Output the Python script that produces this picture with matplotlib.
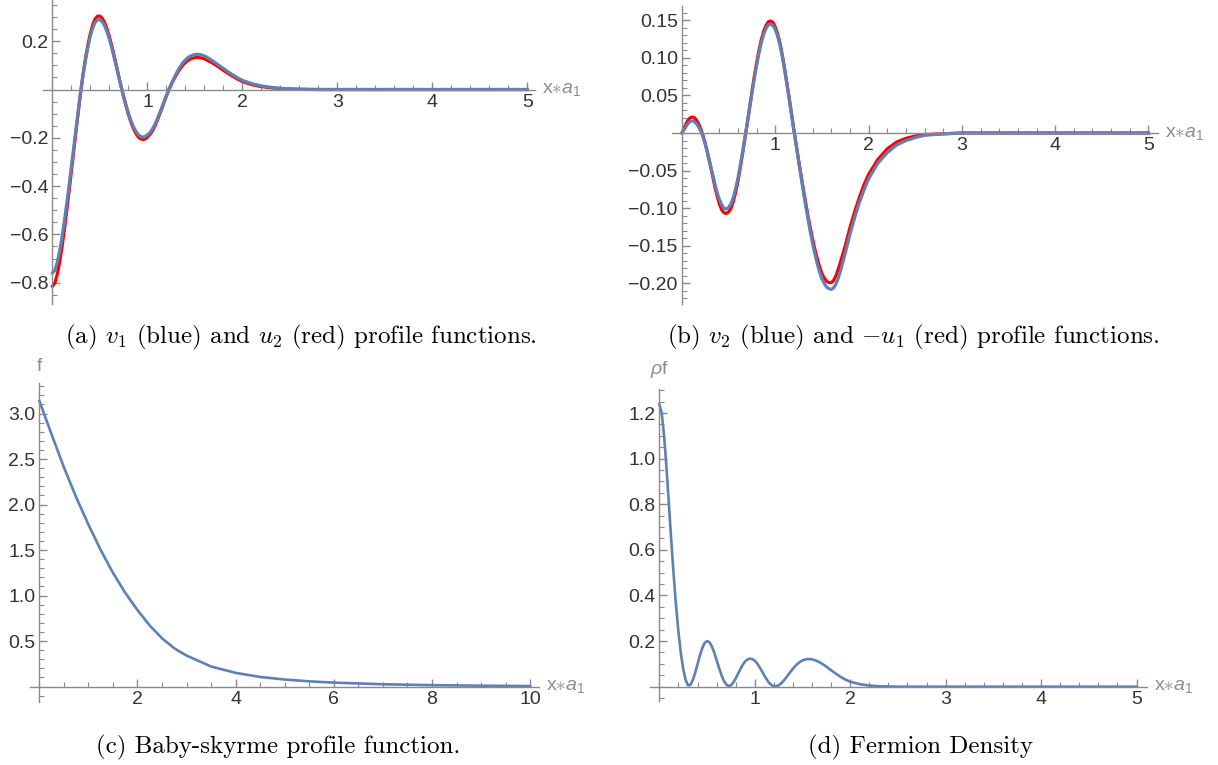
import matplotlib
matplotlib.use("Agg")
import matplotlib.pyplot as plt
from matplotlib.ticker import FixedLocator, MultipleLocator, FuncFormatter

plt.rcParams['font.family'] = ['Liberation Sans', 'DejaVu Sans']
plt.rcParams['mathtext.fontset'] = 'custom'
plt.rcParams['mathtext.rm'] = 'Liberation Sans'
plt.rcParams['mathtext.it'] = 'Liberation Sans:italic'

# ---- data ----
x_prof = [0.000, 0.025, 0.050, 0.075, 0.100, 0.125, 0.150, 0.175, 0.200, 0.225,
          0.250, 0.275, 0.300, 0.325, 0.350, 0.375, 0.400, 0.425, 0.450, 0.475,
          0.500, 0.525, 0.550, 0.575, 0.600, 0.625, 0.650, 0.675, 0.700, 0.725,
          0.750, 0.775, 0.800, 0.825, 0.850, 0.875, 0.900, 0.925, 0.950, 0.975,
          1.000, 1.025, 1.050, 1.075, 1.100, 1.125, 1.150, 1.175, 1.200, 1.225,
          1.250, 1.275, 1.300, 1.325, 1.350, 1.375, 1.400, 1.425, 1.450, 1.475,
          1.500, 1.525, 1.550, 1.575, 1.600, 1.625, 1.650, 1.675, 1.700,
          1.75, 1.80, 1.85, 1.90, 1.95, 2.00,
          2.1, 2.2, 2.3, 2.4, 2.5, 2.6,
          2.8, 3.0, 3.5, 4.0, 4.5, 5.0]

v1 = [-0.760, -0.748, -0.716, -0.670, -0.612, -0.545, -0.472, -0.395, -0.315, -0.235,
      -0.155, -0.076, 0.000, 0.068, 0.128, 0.180, 0.224, 0.257, 0.279, 0.289,
      0.289, 0.280, 0.263, 0.238, 0.207, 0.171, 0.131, 0.090, 0.048, 0.008,
      -0.030, -0.066, -0.099, -0.128, -0.152, -0.171, -0.185, -0.194, -0.197, -0.195,
      -0.188, -0.179, -0.165, -0.147, -0.125, -0.101, -0.076, -0.050, -0.025, -0.001,
      0.022, 0.044, 0.064, 0.082, 0.098, 0.112, 0.123, 0.132, 0.138, 0.142,
      0.145, 0.146, 0.145, 0.143, 0.139, 0.134, 0.128, 0.122, 0.115,
      0.101, 0.087, 0.073, 0.060, 0.048, 0.038,
      0.024, 0.015, 0.009, 0.005, 0.003, 0.001,
      0.000, 0.000, 0.000, 0.000, 0.000, 0.000]

u2 = [-0.815, -0.801, -0.766, -0.715, -0.652, -0.580, -0.501, -0.419, -0.335, -0.250,
      -0.165, -0.081, 0.000, 0.072, 0.135, 0.189, 0.235, 0.270, 0.293, 0.304,
      0.304, 0.294, 0.276, 0.250, 0.217, 0.180, 0.138, 0.095, 0.050, 0.008,
      -0.032, -0.069, -0.104, -0.134, -0.160, -0.180, -0.195, -0.204, -0.207, -0.205,
      -0.197, -0.186, -0.173, -0.154, -0.131, -0.106, -0.080, -0.053, -0.026, -0.001,
      0.020, 0.040, 0.058, 0.075, 0.089, 0.102, 0.112, 0.120, 0.126, 0.130,
      0.132, 0.133, 0.132, 0.130, 0.127, 0.122, 0.117, 0.112, 0.106,
      0.093, 0.079, 0.066, 0.054, 0.043, 0.033,
      0.020, 0.012, 0.007, 0.004, 0.002, 0.001,
      0.000, 0.000, 0.000, 0.000, 0.000, 0.000]

v2 = [0.000, 0.005, 0.010, 0.014, 0.016, 0.016, 0.013, 0.009, 0.003, -0.005,
      -0.015, -0.027, -0.040, -0.053, -0.066, -0.078, -0.088, -0.095, -0.100, -0.101,
      -0.099, -0.094, -0.086, -0.074, -0.060, -0.043, -0.025, -0.006, 0.013, 0.033,
      0.053, 0.072, 0.090, 0.106, 0.120, 0.131, 0.139, 0.144, 0.145, 0.143,
      0.138, 0.129, 0.117, 0.102, 0.084, 0.065, 0.045, 0.024, 0.003, -0.017,
      -0.037, -0.057, -0.077, -0.096, -0.114, -0.131, -0.147, -0.161, -0.174, -0.185,
      -0.194, -0.200, -0.205, -0.207, -0.208, -0.206, -0.201, -0.193, -0.183,
      -0.160, -0.135, -0.113, -0.093, -0.076, -0.061,
      -0.040, -0.026, -0.016, -0.010, -0.006, -0.003,
      -0.001, 0.000, 0.000, 0.000, 0.000, 0.000]

minus_u1 = [0.000, 0.007, 0.014, 0.019, 0.021, 0.021, 0.018, 0.013, 0.006, -0.003,
            -0.014, -0.027, -0.041, -0.055, -0.070, -0.083, -0.094, -0.102, -0.106, -0.107,
            -0.105, -0.100, -0.091, -0.079, -0.064, -0.046, -0.027, -0.007, 0.013, 0.034,
            0.055, 0.075, 0.093, 0.110, 0.124, 0.135, 0.143, 0.148, 0.149, 0.147,
            0.141, 0.132, 0.120, 0.104, 0.086, 0.066, 0.046, 0.025, 0.004, -0.016,
            -0.036, -0.055, -0.074, -0.092, -0.110, -0.126, -0.141, -0.155, -0.167, -0.178,
            -0.187, -0.193, -0.197, -0.199, -0.199, -0.196, -0.190, -0.181, -0.171,
            -0.150, -0.126, -0.105, -0.086, -0.069, -0.055,
            -0.035, -0.021, -0.012, -0.007, -0.004, -0.002,
            -0.001, 0.000, 0.000, 0.000, 0.000, 0.000]

rho = [1.240, 1.200, 1.100, 0.960, 0.800, 0.640, 0.490, 0.355, 0.240, 0.148,
       0.078, 0.030, 0.006, 0.008, 0.028, 0.060, 0.098, 0.137, 0.170, 0.192,
       0.200, 0.195, 0.177, 0.150, 0.117, 0.083, 0.052, 0.027, 0.010, 0.003,
       0.006, 0.018, 0.036, 0.057, 0.078, 0.097, 0.111, 0.120, 0.123, 0.121,
       0.114, 0.102, 0.086, 0.068, 0.049, 0.032, 0.017, 0.007, 0.002, 0.002,
       0.006, 0.014, 0.025, 0.038, 0.052, 0.066, 0.079, 0.091, 0.101, 0.109,
       0.115, 0.119, 0.121, 0.121, 0.120, 0.117, 0.113, 0.108, 0.102,
       0.088, 0.072, 0.057, 0.043, 0.031, 0.022,
       0.011, 0.005, 0.002, 0.001, 0.000, 0.000,
       0.000, 0.000, 0.000, 0.000, 0.000, 0.000]

x_sk = [0.0, 0.25, 0.5, 0.75, 1.0, 1.25, 1.5, 1.75, 2.0, 2.25, 2.5, 2.75, 3.0,
        3.5, 4.0, 4.5, 5.0, 5.5, 6.0, 7.0, 8.0, 9.0, 10.0]
f_sk = [3.14, 2.77, 2.41, 2.08, 1.78, 1.50, 1.25, 1.03, 0.84, 0.67, 0.53, 0.42, 0.34,
        0.22, 0.15, 0.105, 0.077, 0.057, 0.043, 0.025, 0.015, 0.009, 0.005]

captions = [r'(a) $v_1$ (blue) and $u_2$ (red) profile functions.',
            r'(b) $v_2$ (blue) and $-u_1$ (red) profile functions.',
            r'(c) Baby-skyrme profile function.',
            r'(d) Fermion Density']

blue = '#5e81b5'
red = '#ff0000'
axis_gray = '#8a8a8a'
label_gray = '#333333'
name_gray = '#8c8c8c'

W, H = 1218, 765
fig = plt.figure(figsize=(W / 100, H / 100), dpi=100)


def rect(l, t, r, b):
    return [l / W, 1 - b / H, (r - l) / W, (b - t) / H]


def fmt(dec):
    def f(v, pos):
        return ('%.*f' % (dec, v)).replace('-', '\u2212')
    return FuncFormatter(f)


def style(ax, xlim, ylim, xmaj, xminor, ymaj, yminor, xdec, ydec):
    ax.set_xlim(xlim)
    ax.set_ylim(ylim)
    ax.patch.set_visible(False)
    for s in ['top', 'right']:
        ax.spines[s].set_visible(False)
    for s in ['left', 'bottom']:
        ax.spines[s].set_position(('data', 0))
        ax.spines[s].set_color(axis_gray)
        ax.spines[s].set_linewidth(1.0)
    ax.xaxis.set_major_locator(FixedLocator(xmaj))
    ax.xaxis.set_minor_locator(MultipleLocator(xminor))
    ax.yaxis.set_major_locator(FixedLocator(ymaj))
    ax.yaxis.set_minor_locator(MultipleLocator(yminor))
    ax.xaxis.set_major_formatter(fmt(xdec))
    ax.yaxis.set_major_formatter(fmt(ydec))
    ax.tick_params(which='both', direction='in', color=axis_gray,
                   labelcolor=label_gray, labelsize=14)
    ax.tick_params(which='major', length=6, width=1.0, pad=3)
    ax.tick_params(which='minor', length=3.5, width=0.8)
    ax.annotate(r'x$\ast a_1$', xy=(1, 0), xycoords=('axes fraction', 'data'),
                xytext=(5, 0), textcoords='offset points', ha='left', va='center',
                color=name_gray, fontsize=14)


# (a)
ax1 = fig.add_axes(rect(43, 0.2, 535, 304.4))
ax1.plot(x_prof, u2, color=red, lw=2.3, solid_joinstyle='round')
ax1.plot(x_prof, v1, color=blue, lw=2.3, solid_joinstyle='round')
style(ax1, (-0.1, 5.08), (-0.89, 0.37), [1, 2, 3, 4, 5], 0.2,
      [-0.8, -0.6, -0.4, -0.2, 0.2], 0.05, 0, 1)

# (b)
ax2 = fig.add_axes(rect(671.7, 6, 1157.8, 303.7))
ax2.plot(x_prof, minus_u1, color=red, lw=2.3, solid_joinstyle='round')
ax2.plot(x_prof, v2, color=blue, lw=2.3, solid_joinstyle='round')
style(ax2, (-0.11, 5.1), (-0.227, 0.169), [1, 2, 3, 4, 5], 0.2,
      [-0.2, -0.15, -0.1, -0.05, 0.05, 0.1, 0.15], 0.01, 0, 2)

# (c)
ax3 = fig.add_axes(rect(30, 383.5, 539, 702))
ax3.plot(x_sk, f_sk, color=blue, lw=1.9, solid_joinstyle='round')
style(ax3, (-0.19, 10.18), (-0.17, 3.33), [2, 4, 6, 8, 10], 0.5,
      [0.5, 1.0, 1.5, 2.0, 2.5, 3.0], 0.1, 0, 1)
ax3.annotate('f', xy=(0, 1), xycoords=('data', 'axes fraction'), xytext=(0, 6),
             textcoords='offset points', ha='center', va='bottom',
             color=name_gray, fontsize=14)

# (d)
ax4 = fig.add_axes(rect(649.8, 388.7, 1147, 700.6))
ax4.plot(x_prof, rho, color=blue, lw=1.9, solid_joinstyle='round')
style(ax4, (-0.1, 5.11), (-0.061, 1.307), [1, 2, 3, 4, 5], 0.2,
      [0.2, 0.4, 0.6, 0.8, 1.0, 1.2], 0.05, 0, 1)
ax4.annotate(r'$\rho$f', xy=(0, 1), xycoords=('data', 'axes fraction'), xytext=(0, 6),
             textcoords='offset points', ha='center', va='bottom',
             color=name_gray, fontsize=14)

cap_pos = [(301, 337), (913, 337), (278, 747), (920, 747)]
for (cx, cy), txt in zip(cap_pos, captions):
    fig.text(cx / W, 1 - cy / H, txt, ha='center', va='center', fontsize=18,
             family='cmr10', math_fontfamily='cm', color='black')

fig.savefig('out.png', dpi=100)
